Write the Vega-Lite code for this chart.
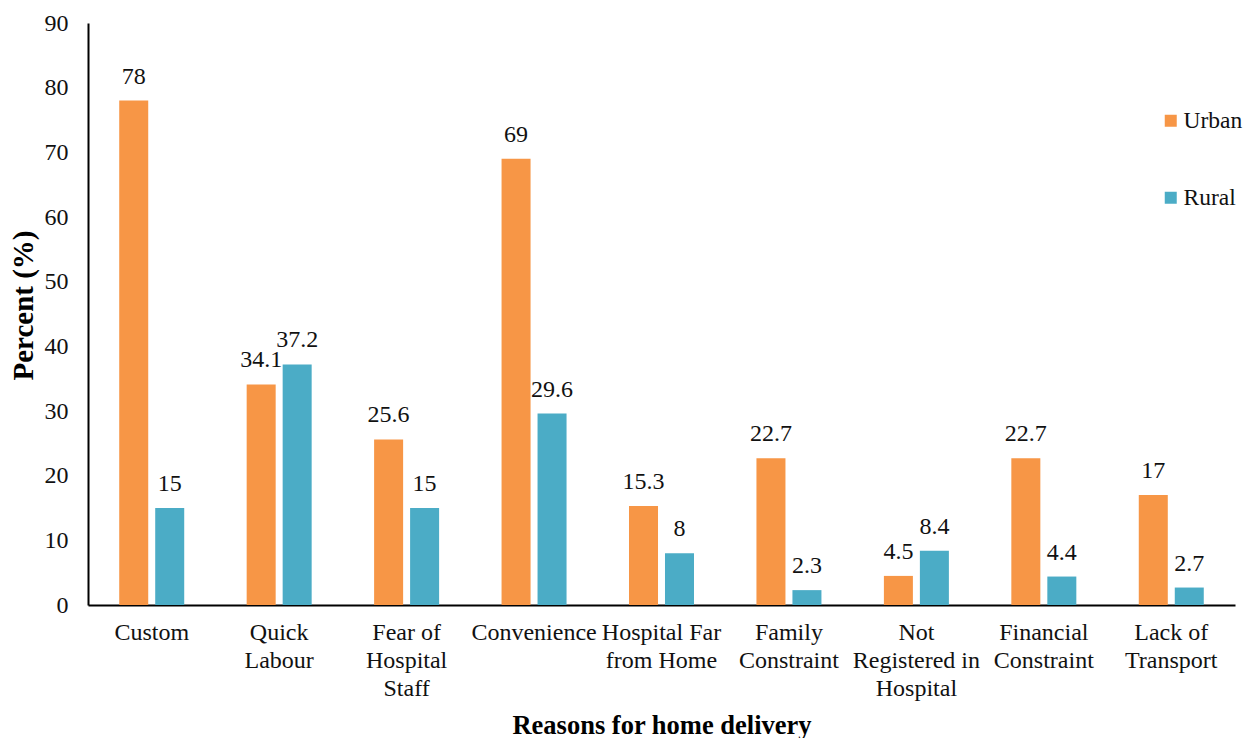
{
  "$schema": "https://vega.github.io/schema/vega-lite/v6.json",
  "autosize": "none",
  "width": 1147,
  "height": 582,
  "padding": {"left": 88, "top": 23, "right": 18, "bottom": 133},
  "background": "white",
  "config": {
    "font": "Liberation Serif",
    "view": {"stroke": null}
  },
  "data": {
    "values": [
      {"reason": "Custom", "area": "Urban", "percent": 78},
      {"reason": "Custom", "area": "Rural", "percent": 15},
      {"reason": "Quick Labour", "area": "Urban", "percent": 34.1},
      {"reason": "Quick Labour", "area": "Rural", "percent": 37.2},
      {"reason": "Fear of Hospital Staff", "area": "Urban", "percent": 25.6},
      {"reason": "Fear of Hospital Staff", "area": "Rural", "percent": 15},
      {"reason": "Convenience", "area": "Urban", "percent": 69},
      {"reason": "Convenience", "area": "Rural", "percent": 29.6},
      {"reason": "Hospital Far from Home", "area": "Urban", "percent": 15.3},
      {"reason": "Hospital Far from Home", "area": "Rural", "percent": 8},
      {"reason": "Family Constraint", "area": "Urban", "percent": 22.7},
      {"reason": "Family Constraint", "area": "Rural", "percent": 2.3},
      {"reason": "Not Registered in Hospital", "area": "Urban", "percent": 4.5},
      {"reason": "Not Registered in Hospital", "area": "Rural", "percent": 8.4},
      {"reason": "Financial Constraint", "area": "Urban", "percent": 22.7},
      {"reason": "Financial Constraint", "area": "Rural", "percent": 4.4},
      {"reason": "Lack of Transport", "area": "Urban", "percent": 17},
      {"reason": "Lack of Transport", "area": "Rural", "percent": 2.7}
    ]
  },
  "encoding": {
    "x": {
      "field": "reason",
      "type": "nominal",
      "sort": null,
      "scale": {"paddingInner": 0.49, "paddingOuter": 0.245},
      "axis": {
        "title": "Reasons for home delivery",
        "titleFont": "Liberation Serif",
        "titleFontSize": 26.5,
        "titleFontWeight": "bold",
        "titleColor": "#000",
        "titleBaseline": "alphabetic",
        "titleY": 128,
        "labelFont": "Liberation Serif",
        "labelAngle": 0,
        "labelFontSize": 24,
        "labelColor": "#111",
        "labelBaseline": "top",
        "labelPadding": 15,
        "labelLineHeight": 28,
        "labelLimit": 250,
        "labelOverlap": false,
        "ticks": false,
        "domainColor": "#000",
        "domainWidth": 2,
        "labelExpr": "({'Custom':['Custom'],'Quick Labour':['Quick','Labour'],'Fear of Hospital Staff':['Fear of','Hospital','Staff'],'Convenience':['Convenience'],'Hospital Far from Home':['Hospital Far','from Home'],'Family Constraint':['Family','Constraint'],'Not Registered in Hospital':['Not','Registered in','Hospital'],'Financial Constraint':['Financial','Constraint'],'Lack of Transport':['Lack of','Transport']})[datum.label]"
      }
    },
    "xOffset": {
      "field": "area",
      "type": "nominal",
      "sort": ["Urban", "Rural"],
      "scale": {"paddingInner": 0.194, "paddingOuter": 0}
    },
    "y": {
      "field": "percent",
      "type": "quantitative",
      "scale": {"domain": [0, 90]},
      "axis": {
        "title": "Percent (%)",
        "titleFont": "Liberation Serif",
        "titleFontSize": 29,
        "titleFontWeight": "bold",
        "titleColor": "#000",
        "titleAngle": -90,
        "titleAlign": "center",
        "titleBaseline": "alphabetic",
        "titleX": -56,
        "titleY": 282,
        "values": [0, 10, 20, 30, 40, 50, 60, 70, 80, 90],
        "grid": false,
        "ticks": false,
        "labelFont": "Liberation Serif",
        "labelFontSize": 24,
        "labelColor": "#111",
        "labelPadding": 20,
        "domainColor": "#000",
        "domainWidth": 2
      }
    }
  },
  "layer": [
    {
      "mark": {"type": "bar"},
      "encoding": {
        "color": {
          "field": "area",
          "type": "nominal",
          "sort": ["Urban", "Rural"],
          "scale": {"domain": ["Urban", "Rural"], "range": ["#F79646", "#4BACC6"]},
          "legend": {
            "title": null,
            "orient": "none",
            "legendX": 1071,
            "legendY": 86,
            "symbolType": "square",
            "symbolSize": 144,
            "symbolStrokeWidth": 0,
            "labelFont": "Liberation Serif",
            "labelFontSize": 23.5,
            "labelColor": "#111",
            "labelOffset": 1,
            "rowPadding": 52
          }
        }
      }
    },
    {
      "mark": {"type": "text", "baseline": "alphabetic", "dy": -17, "fontSize": 24, "color": "#111", "font": "Liberation Serif"},
      "encoding": {
        "text": {"field": "percent", "type": "quantitative"}
      }
    }
  ]
}
